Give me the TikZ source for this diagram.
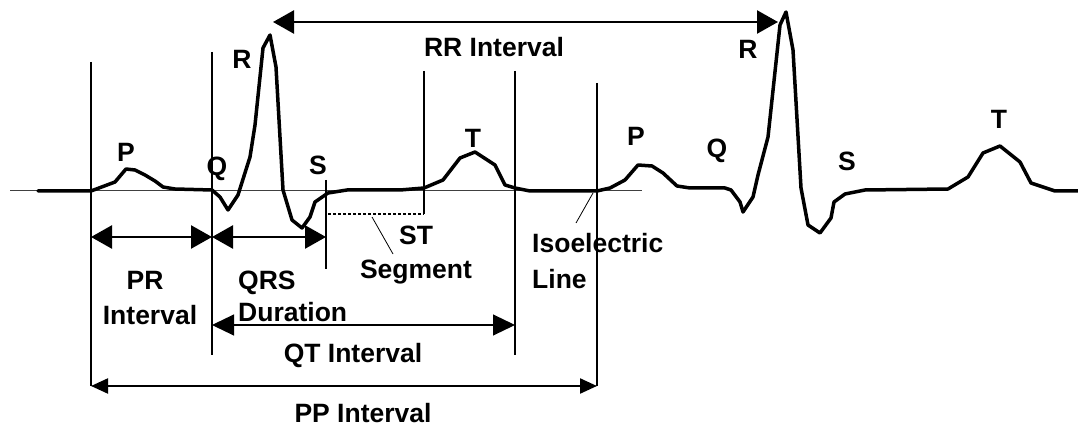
\documentclass[tikz,border=0pt]{standalone}
\usepackage{fontspec}
\setmainfont{Liberation Sans}
\usetikzlibrary{positioning,arrows.meta,calc}

\begin{document}
\begin{tikzpicture}[
  x=1pt,y=-1pt,
  lbl/.style={font=\fontsize{26.5}{32}\selectfont\bfseries,inner sep=0pt,anchor=base},
  trace/.style={line width=3.5pt,line join=round,line cap=round},
  marker/.style={line width=1.9pt},
  iso/.style={line width=0.8pt,draw=black!75},
  leader/.style={line width=0.8pt},
  bigarr/.style={{Triangle[length=21pt,width=23pt]}-{Triangle[length=21pt,width=23pt]},line width=2.5pt},
  qtarr/.style={{Triangle[length=22pt,width=21pt]}-{Triangle[length=22pt,width=21pt]},line width=1.1pt},
  pparr/.style={{Triangle[length=17pt,width=15pt]}-{Triangle[length=17pt,width=15pt]},line width=2.2pt},
  stdash/.style={line width=1.1pt,dash pattern=on 3pt off 2pt}
]
\useasboundingbox (0,0) rectangle (1078,427);

\coordinate (m1t) at (91,62);   \coordinate (m1b) at (91,386);
\coordinate (m2t) at (212,52);  \coordinate (m2b) at (212,355);
\coordinate (m3t) at (326,180); \coordinate (m3b) at (326,269);
\coordinate (m4t) at (424,71);  \coordinate (m4b) at (424,214);
\coordinate (m5t) at (515,71);  \coordinate (m5b) at (515,355);
\coordinate (m6t) at (597,83);  \coordinate (m6b) at (597,386);
\coordinate (prrow) at (0,237);
\coordinate (qtrow) at (0,325);
\coordinate (pprow) at (0,386);
\coordinate (rr1) at (273,22);  \coordinate (rr2) at (778,22);
\coordinate (isol) at (10,190.5); \coordinate (isor) at (642,190.5);
\coordinate (stl) at (328,214);
\coordinate (sttip) at (372,217); \coordinate (stend) at (393,254);
\coordinate (isotip) at (593,193); \coordinate (isoend) at (576,223);

\draw[iso] (isol) -- (isor);
\foreach \m in {1,...,6}
  \draw[marker] (m\m t) -- (m\m b);
\draw[stdash] (stl) -- (m4b);

\draw[trace] (38,191) -- (91,191) -- (99,188) -- (115,182) -- (126,169) -- (135,170)
  -- (145,175) -- (155,181) -- (163,187) -- (175,189) -- (212,190) -- (220,197)
  -- (228,210) -- (238,195) -- (250,157) -- (255,125) -- (263,48) -- (270,35)
  -- (276,67) -- (283,190) -- (292,220) -- (302,228) -- (310,217) -- (315,202)
  -- (328,193) -- (347,190) -- (400,190) -- (424,188) -- (443,180) -- (460,158)
  -- (475,152) -- (495,165) -- (505,185) -- (515,188) -- (530,191) -- (597,191)
  -- (610,188) -- (625,180) -- (638,165) -- (652,166) -- (663,173) -- (677,186)
  -- (690,188) -- (725,188) -- (731,190) -- (740,202) -- (743,212) -- (753,197)
  -- (758,175) -- (768,137) -- (780,25) -- (786,12) -- (793,50) -- (801,188)
  -- (808,225) -- (820,233) -- (831,218) -- (834,202) -- (845,194) -- (865,190)
  -- (948,189) -- (968,177) -- (983,153) -- (1000,146) -- (1020,162) -- (1031,183)
  -- (1055,191) -- (1078,191);

\node[lbl] (p1) at (126,162) {P};
\node[lbl] (q1) at (217,176) {Q};
\node[lbl] (r1) at (242,69) {R};
\node[lbl] (s1) at (318,175) {S};
\node[lbl] (t1) at (473,148) {T};
\node[lbl] (p2) at (636,146) {P};
\node[lbl] (q2) at (717,158) {Q};
\node[lbl] (r2) at (748,59) {R};
\node[lbl] (s2) at (847,171) {S};
\node[lbl] (t2) at (999,129) {T};

\node[lbl] (rr) at (494,57) {RR Interval};
\node[lbl] (st) at (416,245) {ST};
\node[lbl,below=34pt of st.base,anchor=base] (seg) {Segment};
\node[lbl,anchor=base west] (isoa) at (532,253) {Isoelectric};
\node[lbl,below=36pt of isoa.base west,anchor=base west] (isob) {Line};
\node[lbl] (pra) at (145,290) {PR};
\node[lbl,below=34pt of pra.base,anchor=base,xshift=5pt] (prb) {Interval};
\node[lbl,anchor=base west] (qrsa) at (238,290) {QRS};
\node[lbl,below=32pt of qrsa.base west,anchor=base west] (qrsb) {Duration};
\node[lbl] (qt) at (353,362) {QT Interval};
\node[lbl] (pp) at (363,422) {PP Interval};

\draw[bigarr] (rr1) -- (rr2);
\draw[bigarr] (m1t |- prrow) -- (m2t |- prrow);
\draw[bigarr] (m2t |- prrow) -- (m3t |- prrow);
\draw[qtarr] (m2t |- qtrow) -- (m5t |- qtrow);
\draw[pparr] (m1t |- pprow) -- (m6t |- pprow);
\draw[leader] (sttip) -- (stend);
\draw[leader] (isotip) -- (isoend);
\end{tikzpicture}
\end{document}
